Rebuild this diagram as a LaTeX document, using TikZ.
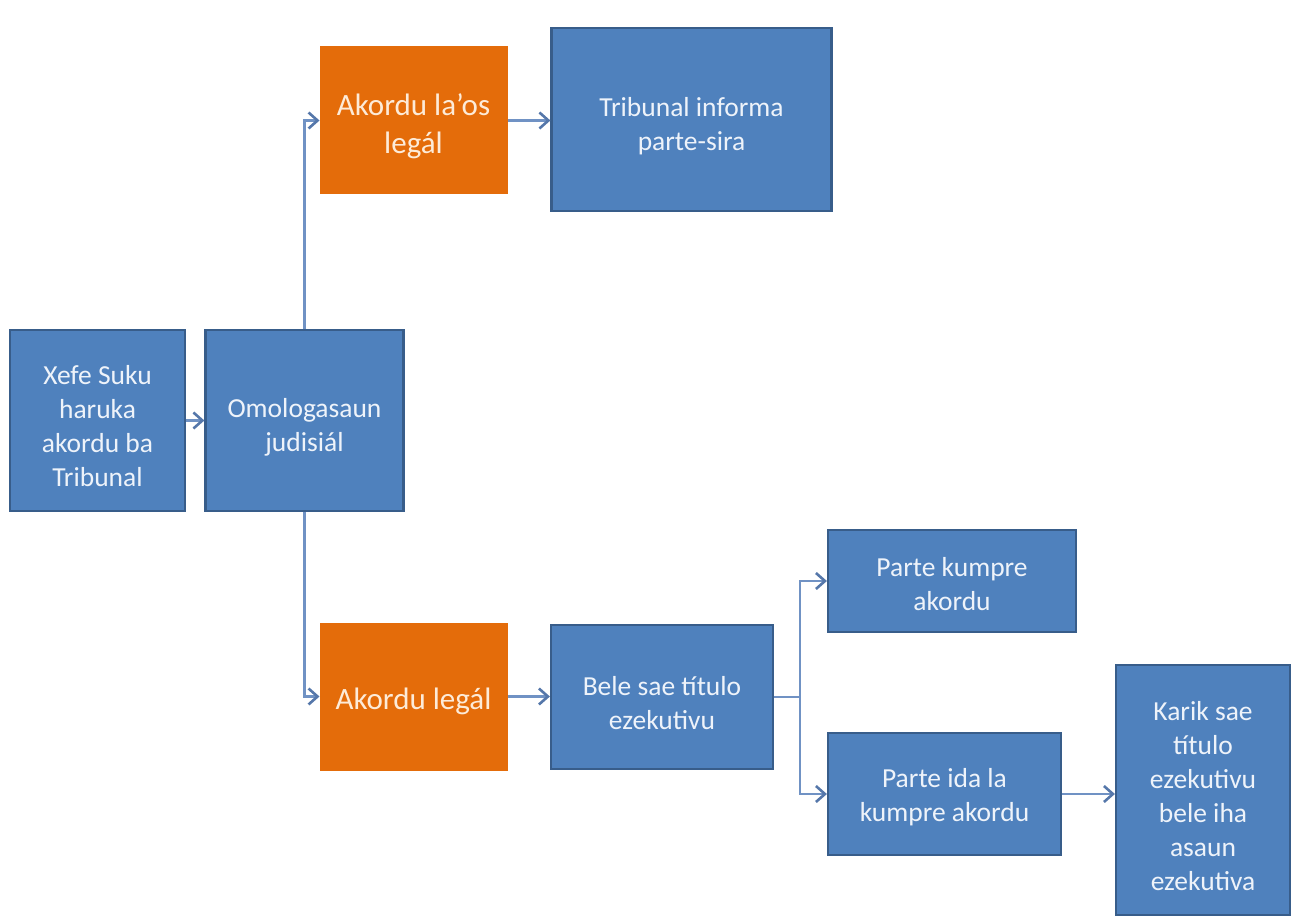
\documentclass[tikz,border=0pt]{standalone}
\usepackage{fontspec}
\setmainfont{Carlito}
\usetikzlibrary{arrows.meta}
\definecolor{boxblue}{HTML}{4F81BD}
\definecolor{boxedge}{HTML}{385D8A}
\definecolor{boxorange}{HTML}{E46C0A}
\definecolor{linkblue}{HTML}{7092C4}
\definecolor{tipblue}{HTML}{5577AA}
\definecolor{orangetext}{HTML}{FDEBD8}
\definecolor{bluetext}{HTML}{EEF3FA}
\tikzset{
  bluebox/.style={draw=boxedge, line width=2.2pt, fill=boxblue, inner sep=0pt},
  orangebox/.style={draw=boxorange, line width=1pt, fill=boxorange, inner sep=0pt},
  bluetxt/.style={text=bluetext, align=center, inner sep=0pt,
    font=\fontsize{27.5}{34}\selectfont},
  orangetxt/.style={text=orangetext, align=center, inner sep=0pt,
    font=\fontsize{31}{38}\selectfont},
  link/.style={draw=linkblue, line width=2.6pt,
    -{Straight Barb[length=9pt,width=16pt,line width=2.6pt,color=tipblue]}},
  plain/.style={draw=linkblue, line width=2.6pt},
}
\begin{document}
\begin{tikzpicture}[x=1pt,y=-1pt]
\useasboundingbox (0,0) rectangle (1291,917);
\node[bluebox, minimum width=175pt, minimum height=181pt] (A) at (97.5,420.5) {};
\node[bluebox, minimum width=198pt, minimum height=181pt] (B) at (304.5,420.5) {};
\node[orangebox, minimum width=187pt, minimum height=147pt] (C) at (413.5,120.5) {};
\node[bluebox, minimum width=280pt, minimum height=183pt] (D) at (691.5,119.5) {};
\node[orangebox, minimum width=187pt, minimum height=147pt] (E) at (413.5,696.5) {};
\node[bluebox, minimum width=222pt, minimum height=144pt] (F) at (662,697) {};
\node[bluebox, minimum width=248pt, minimum height=102pt] (G) at (952,581) {};
\node[bluebox, minimum width=233pt, minimum height=122pt] (H) at (944.5,794) {};
\node[bluebox, minimum width=174pt, minimum height=250pt] (I) at (1203,790) {};

\node[bluetxt] (At) at ([yshift=-6pt]A.center) {Xefe Suku\\haruka\\akordu ba\\Tribunal};
\node[bluetxt] (Bt) at ([yshift=-7pt]B.center) {Omologasaun\\judisiál};
\node[orangetxt] (Ct) at ([yshift=-6pt]C.center) {Akordu la’os\\legál};
\node[bluetxt] (Dt) at ([yshift=-7pt]D.center) {Tribunal informa\\parte-sira};
\node[orangetxt] (Et) at ([yshift=-5pt]E.center) {Akordu legál};
\node[bluetxt] (Ft) at ([yshift=-6pt]F.center) {Bele sae título\\ezekutivu};
\node[bluetxt] (Gt) at ([yshift=-3pt]G.center) {Parte kumpre\\akordu};
\node[bluetxt] (Ht) at ([yshift=-3pt]H.center) {Parte ida la\\kumpre akordu};
\node[bluetxt] (It) at ([yshift=-6pt]I.center) {Karik sae\\título\\ezekutivu\\bele iha\\asaun\\ezekutiva};

\coordinate (split) at (800,697);
\draw[link] (A.east) -- (B.west);
\draw[link] (B.north) |- (C.west);
\draw[link] (B.south) |- (E.west);
\draw[link] (C.east) -- (C.east -| D.west);
\draw[link] (E.east) -- (E.east -| F.west);
\draw[plain] (F.east) -- (split);
\draw[link] (split) |- (G.west);
\draw[link] (split) |- (H.west);
\draw[link] (H.east) -- (H.east -| I.west);
\end{tikzpicture}
\end{document}
